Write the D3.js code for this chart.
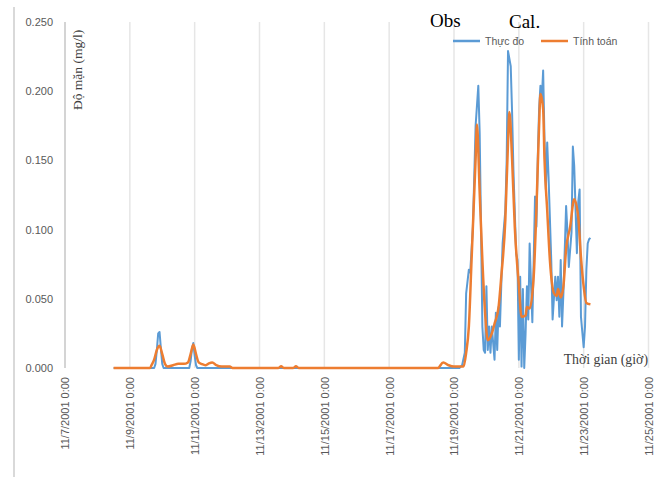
<!DOCTYPE html>
<html>
<head>
<meta charset="utf-8">
<script src="https://cdn.jsdelivr.net/npm/d3@7"></script>
<style>
  html, body { margin: 0; padding: 0; background: #fff; }
  svg { display: block; }
</style>
</head>
<body>
<svg id="chart" width="661" height="477"></svg>
<script>
// Salinity at the station, hourly, starting 11/7/2001 0:00
const startDate = new Date(2001, 10, 7, 0, 0);

// Observed salinity (Thực đo): hour offset from start, value in mg/l
const obsHours = [
  36, 66, 67, 68, 69, 70, 71, 72, 73,
  92, 93, 94, 95, 96, 97, 98,
  292, 294, 296, 297, 299, 300, 302, 304, 306, 307, 308, 309, 310, 311,
  312, 313, 314, 315, 316, 318, 319, 320, 321, 322, 324, 326, 327, 328,
  330, 331, 332, 334, 335, 336, 337, 338, 339, 340, 341, 342, 343, 344,
  346, 347, 348, 349, 350, 351, 352, 353, 354, 355, 356, 357, 358, 360,
  361, 363, 364, 365, 366, 367, 368, 369, 371, 372, 373, 375, 376, 377,
  379, 380, 381, 382, 384, 385, 386, 387, 388, 389
];
const obsValues = [
  0, 0, 0.003, 0.013, 0.025, 0.026, 0.014, 0.003, 0,
  0, 0.005, 0.014, 0.018, 0.009, 0.002, 0,
  0, 0.002, 0.011, 0.054, 0.071, 0.069, 0.102, 0.175, 0.204, 0.170, 0.102, 0.030, 0.013, 0.011,
  0.059, 0.013, 0.030, 0.011, 0.030, 0.006, 0.040, 0.013, 0.044, 0.030, 0.090, 0.114, 0.150, 0.229,
  0.218, 0.185, 0.143, 0.083, 0.078, 0.006, 0.066, 0.001, 0.057, 0.000, 0.025, 0.059, 0.035, 0.090,
  0.033, 0.078, 0.124, 0.102, 0.151, 0.187, 0.204, 0.194, 0.215, 0.165, 0.129, 0.163, 0.138, 0.078,
  0.035, 0.066, 0.049, 0.066, 0.037, 0.078, 0.030, 0.054, 0.117, 0.098, 0.073, 0.098, 0.160, 0.146,
  0.083, 0.120, 0.129, 0.037, 0.015, 0.030, 0.071, 0.090, 0.093, 0.094
];

// Computed salinity (Tính toán)
const calHours = [
  36, 63, 64, 66, 68, 70, 72, 74, 76, 80, 84, 88, 91, 93, 95, 97, 99, 101,
  104, 106, 109, 112, 116, 122, 124,
  158, 160, 162, 169, 171, 173,
  276, 280, 284, 288, 292, 295, 297, 299, 301, 304, 305, 307, 309, 311,
  313, 316, 318, 321, 323, 326, 328, 329, 331, 333, 336, 338, 341, 342,
  344, 347, 349, 351, 352, 354, 355, 357, 359, 362, 364, 365, 367, 369,
  371, 374, 377, 380, 382, 384, 386, 389
];
const calValues = [
  0, 0, 0.002, 0.006, 0.013, 0.016, 0.010, 0.003, 0.001, 0.002, 0.003, 0.003, 0.004, 0.010, 0.017, 0.010, 0.004, 0.003,
  0.002, 0.003, 0.004, 0.002, 0.001, 0.001, 0,
  0, 0.0012, 0, 0, 0.0012, 0,
  0, 0.004, 0.002, 0.001, 0.001, 0.001, 0.011, 0.030, 0.078, 0.151, 0.176, 0.127, 0.078, 0.040,
  0.020, 0.025, 0.032, 0.044, 0.066, 0.107, 0.163, 0.185, 0.151, 0.102, 0.060, 0.037, 0.038, 0.044,
  0.043, 0.066, 0.114, 0.175, 0.198, 0.187, 0.151, 0.114, 0.078, 0.054, 0.052, 0.057, 0.051, 0.059,
  0.086, 0.102, 0.122, 0.109, 0.080, 0.059, 0.047, 0.046
];

const yTicks = [0, 0.05, 0.10, 0.15, 0.20, 0.25];
const xTickDays = [7, 9, 11, 13, 15, 17, 19, 21, 23, 25];

const seriesNames = ["Thực đo", "Tính toán"];
const seriesColors = ["#5b9bd5", "#ed7d31"];

const hourToDate = h => new Date(startDate.getTime() + h * 3600 * 1000);
const obs = obsHours.map((h, i) => ({ t: hourToDate(h), v: obsValues[i] }));
const cal = calHours.map((h, i) => ({ t: hourToDate(h), v: calValues[i] }));
const xTickDates = xTickDays.map(d => new Date(2001, 10, d, 0, 0));

const svg = d3.select("#chart");

const x = d3.scaleTime()
  .domain([new Date(2001, 10, 7), new Date(2001, 10, 25)])
  .range([65, 648.5]);
const y = d3.scaleLinear().domain([0, 0.25]).range([368, 22]);

// outer frame edge
svg.append("line")
  .attr("x1", 14).attr("x2", 14).attr("y1", 7).attr("y2", 477)
  .attr("stroke", "#d9d9d9").attr("stroke-width", 2);

// vertical gridlines
svg.append("g").selectAll("line")
  .data(xTickDates)
  .join("line")
  .attr("x1", d => x(d)).attr("x2", d => x(d))
  .attr("y1", y(0.25)).attr("y2", y(0))
  .attr("stroke", (d, i) => i === 0 ? "#d4d4d4" : "#e6e6e6")
  .attr("stroke-width", (d, i) => i === 0 ? 2 : 1.5);

// y axis labels
const yAxis = d3.axisLeft(y)
  .tickValues(yTicks)
  .tickFormat(d3.format(".3f"))
  .tickSize(0)
  .tickPadding(12);
const gy = svg.append("g").attr("transform", "translate(65,0)").call(yAxis);
gy.select(".domain").remove();
gy.selectAll("text")
  .attr("fill", "#595959")
  .style("font-family", "'Liberation Sans', Arial, sans-serif")
  .style("font-size", "11px");

// x axis labels, rotated
const xAxis = d3.axisBottom(x)
  .tickValues(xTickDates)
  .tickFormat(d3.timeFormat("%-m/%-d/%Y %-H:%M"))
  .tickSize(0);
const gx = svg.append("g").attr("transform", `translate(0,${y(0)})`).call(xAxis);
gx.select(".domain").remove();
gx.selectAll("text")
  .attr("fill", "#595959")
  .attr("transform", "rotate(-90)")
  .attr("text-anchor", "end")
  .attr("x", -9)
  .attr("y", 0)
  .attr("dy", "0.35em")
  .style("font-family", "'Liberation Sans', Arial, sans-serif")
  .style("font-size", "11px");

// series lines
const obsLine = d3.line().x(d => x(d.t)).y(d => y(d.v)).curve(d3.curveLinear);
const calLine = d3.line().x(d => x(d.t)).y(d => y(d.v)).curve(d3.curveMonotoneX);

svg.append("path")
  .datum(obs)
  .attr("d", obsLine)
  .attr("fill", "none")
  .attr("stroke", seriesColors[0])
  .attr("stroke-width", 2)
  .attr("stroke-linejoin", "round");

svg.append("path")
  .datum(cal)
  .attr("d", calLine)
  .attr("fill", "none")
  .attr("stroke", seriesColors[1])
  .attr("stroke-width", 2.5)
  .attr("stroke-linejoin", "round");

// legend
const legend = svg.append("g").attr("transform", "translate(453,41)");
const legendX = [0, 88];
seriesNames.forEach((name, i) => {
  const g = legend.append("g").attr("transform", `translate(${legendX[i]},0)`);
  g.append("line")
    .attr("x1", 0).attr("x2", 27).attr("y1", 0).attr("y2", 0)
    .attr("stroke", seriesColors[i]).attr("stroke-width", 2.5);
  g.append("text")
    .attr("x", 32).attr("y", 0).attr("dy", "0.35em")
    .attr("fill", "#595959")
    .style("font-family", "'Liberation Sans', Arial, sans-serif")
    .style("font-size", "10.5px")
    .text(name);
});

// series tags above legend
svg.append("text")
  .attr("x", 430).attr("y", 27)
  .style("font-family", "'Liberation Serif', 'Times New Roman', serif")
  .style("font-size", "19px")
  .attr("fill", "#000")
  .text("Obs");
svg.append("text")
  .attr("x", 509).attr("y", 28)
  .style("font-family", "'Liberation Serif', 'Times New Roman', serif")
  .style("font-size", "19px")
  .attr("fill", "#000")
  .text("Cal.");

// axis titles
svg.append("text")
  .attr("transform", "translate(77,110) rotate(-90)")
  .attr("dy", "0.35em")
  .attr("text-anchor", "start")
  .attr("fill", "#404040")
  .style("font-family", "'Liberation Serif', 'Times New Roman', serif")
  .style("font-size", "13.5px")
  .text("Độ mặn (mg/l)");

svg.append("text")
  .attr("x", 648).attr("y", 364)
  .attr("text-anchor", "end")
  .attr("fill", "#404040")
  .style("font-family", "'Liberation Serif', 'Times New Roman', serif")
  .style("font-size", "13.8px")
  .text("Thời gian (giờ)");
</script>
</body>
</html>
